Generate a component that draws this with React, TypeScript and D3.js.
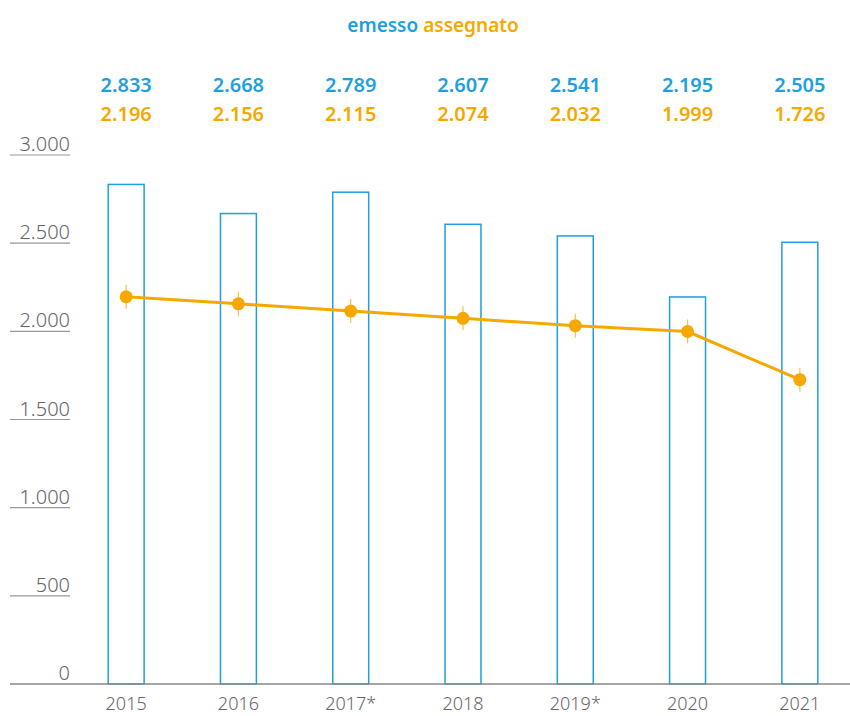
import * as d3 from "d3";

const years = ["2015", "2016", "2017*", "2018", "2019*", "2020", "2021"];
const emesso = [2833, 2668, 2789, 2607, 2541, 2195, 2505];
const assegnato = [2196, 2156, 2115, 2074, 2032, 1999, 1726];
const yTicks = [0, 500, 1000, 1500, 2000, 2500, 3000];

const BLUE = "#1ea0e0";
const ORANGE = "#f6a800";
const GRAY = "#666";
const FONT = "'Noto Sans', 'Open Sans', sans-serif";

const fmt = (v: number) => d3.format(",")(v).replace(/,/g, ".");

export default function App() {
  const width = 850;
  const height = 716;

  const x = d3.scaleBand<string>().domain(years).range([70, 856]).paddingInner(0.68).paddingOuter(0.34);
  const y = d3.scaleLinear().domain([0, 3000]).range([684, 155]);

  const line = d3
    .line<number>()
    .x((_, i) => (x(years[i]) ?? 0) + x.bandwidth() / 2)
    .y((d) => y(d));

  return (
    <svg width={width} height={height} style={{ position: "absolute", left: 0, top: 0, fontFamily: FONT }}>
      <text x={433} y={32} textAnchor="middle" fontSize={19} fontWeight={600}>
        <tspan fill={BLUE}>emesso</tspan>
        <tspan fill={ORANGE}> assegnato</tspan>
      </text>

      {yTicks.map((t) => (
        <g key={t}>
          {t > 0 && <line x1={10} x2={70} y1={y(t)} y2={y(t)} stroke="#999" strokeWidth={1.2} />}
          <text x={70} y={y(t) - 4} textAnchor="end" fontSize={20} fill={GRAY} fontWeight={300}>
            {fmt(t)}
          </text>
        </g>
      ))}

      {years.map((yr, i) => {
        const cx = (x(yr) ?? 0) + x.bandwidth() / 2;
        return (
          <g key={yr}>
            <rect
              x={x(yr)}
              y={y(emesso[i])}
              width={x.bandwidth()}
              height={y(0) - y(emesso[i])}
              fill="none"
              stroke={BLUE}
              strokeWidth={1.5}
            />
            <text x={cx} y={92} textAnchor="middle" fontSize={20} fontWeight={600} fill={BLUE}>
              {fmt(emesso[i])}
            </text>
            <text x={cx} y={121} textAnchor="middle" fontSize={20} fontWeight={600} fill={ORANGE}>
              {fmt(assegnato[i])}
            </text>
            <text x={cx} y={710} textAnchor="middle" fontSize={18} fill={GRAY} fontWeight={300}>
              {yr}
            </text>
          </g>
        );
      })}

      <line x1={10} x2={850} y1={y(0)} y2={y(0)} stroke="#888" strokeWidth={1.5} />

      <path d={line(assegnato) ?? ""} fill="none" stroke={ORANGE} strokeWidth={3} />
      {assegnato.map((v, i) => {
        const cx = (x(years[i]) ?? 0) + x.bandwidth() / 2;
        return (
          <g key={i}>
            <line x1={cx} x2={cx} y1={y(v) - 12} y2={y(v) + 12} stroke={ORANGE} strokeWidth={1.2} opacity={0.7} />
            <circle cx={cx} cy={y(v)} r={6.5} fill={ORANGE} />
          </g>
        );
      })}
    </svg>
  );
}
